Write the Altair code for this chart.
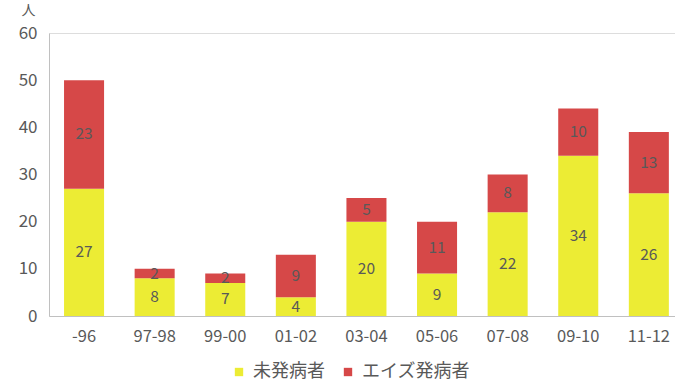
import altair as alt
import pandas as pd

# Period categories and case counts per series
periods = ["-96", "97-98", "99-00", "01-02", "03-04", "05-06", "07-08", "09-10", "11-12"]
not_onset = [27, 8, 7, 4, 20, 9, 22, 34, 26]
aids_onset = [23, 2, 2, 9, 5, 11, 8, 10, 13]
series_names = ["未発病者", "エイズ発病者"]
series_colors = ["#ecec34", "#d64848"]
y_ticks = [0, 10, 20, 30, 40, 50, 60]

rows = []
for i, p in enumerate(periods):
    rows.append({"period": p, "series": series_names[0], "order": 0, "value": not_onset[i]})
    rows.append({"period": p, "series": series_names[1], "order": 1, "value": aids_onset[i]})
df = pd.DataFrame(rows)

FONT = "Noto Sans CJK JP"
GREY = "#595959"

base = alt.Chart(df).transform_stack(
    stack="value", groupby=["period"], as_=["y0", "y1"],
    sort=[alt.SortField("order", order="ascending")]
).transform_calculate(mid="(datum.y0 + datum.y1) / 2")

x_enc = alt.X(
    "period:N", sort=periods, title=None,
    scale=alt.Scale(paddingInner=0.433, paddingOuter=0.15, align=0.71),
    axis=alt.Axis(labelAngle=0, labelFontSize=16.5, labelColor=GREY, labelFont=FONT,
                  ticks=False, domainColor="#c0c0c0", labelPadding=12),
)

bars = base.mark_bar().encode(
    x=x_enc,
    y=alt.Y("y0:Q", scale=alt.Scale(domain=[0, 60]),
            axis=alt.Axis(values=y_ticks, grid=False, ticks=False, labelFontSize=17,
                          labelColor=GREY, labelFont=FONT, domainColor="#c0c0c0",
                          labelPadding=12, title="人", titleAngle=0, titleX=-21,
                          titleY=-23, titleFontSize=14, titleFont=FONT,
                          titleColor=GREY, titleFontWeight="normal",
                          titleBaseline="middle", titleAlign="center")),
    y2="y1:Q",
    color=alt.Color("series:N", sort=series_names,
                    scale=alt.Scale(domain=series_names, range=series_colors),
                    legend=alt.Legend(title=None, orient="none", direction="horizontal",
                                      legendX=181, legendY=330, symbolType="square",
                                      symbolSize=70, symbolStrokeWidth=0,
                                      labelFontSize=18, labelFont=FONT, labelColor=GREY,
                                      columnPadding=14, labelOffset=5)),
    order=alt.Order("order:Q"),
)

labels = base.mark_text(fontSize=15.5, font=FONT, color=GREY, baseline="middle").encode(
    x=alt.X("period:N", sort=periods),
    y=alt.Y("mid:Q"),
    text=alt.Text("value:Q"),
)

chart = alt.layer(bars, labels).properties(
    width=626, height=283,
    autosize=alt.AutoSizeParams(type="none"),
    padding={"left": 49, "top": 33, "right": 0, "bottom": 70},
).configure_view(stroke=None).configure(background="white")

chart.save("out.html", embed_options={"renderer": "svg", "actions": False})
